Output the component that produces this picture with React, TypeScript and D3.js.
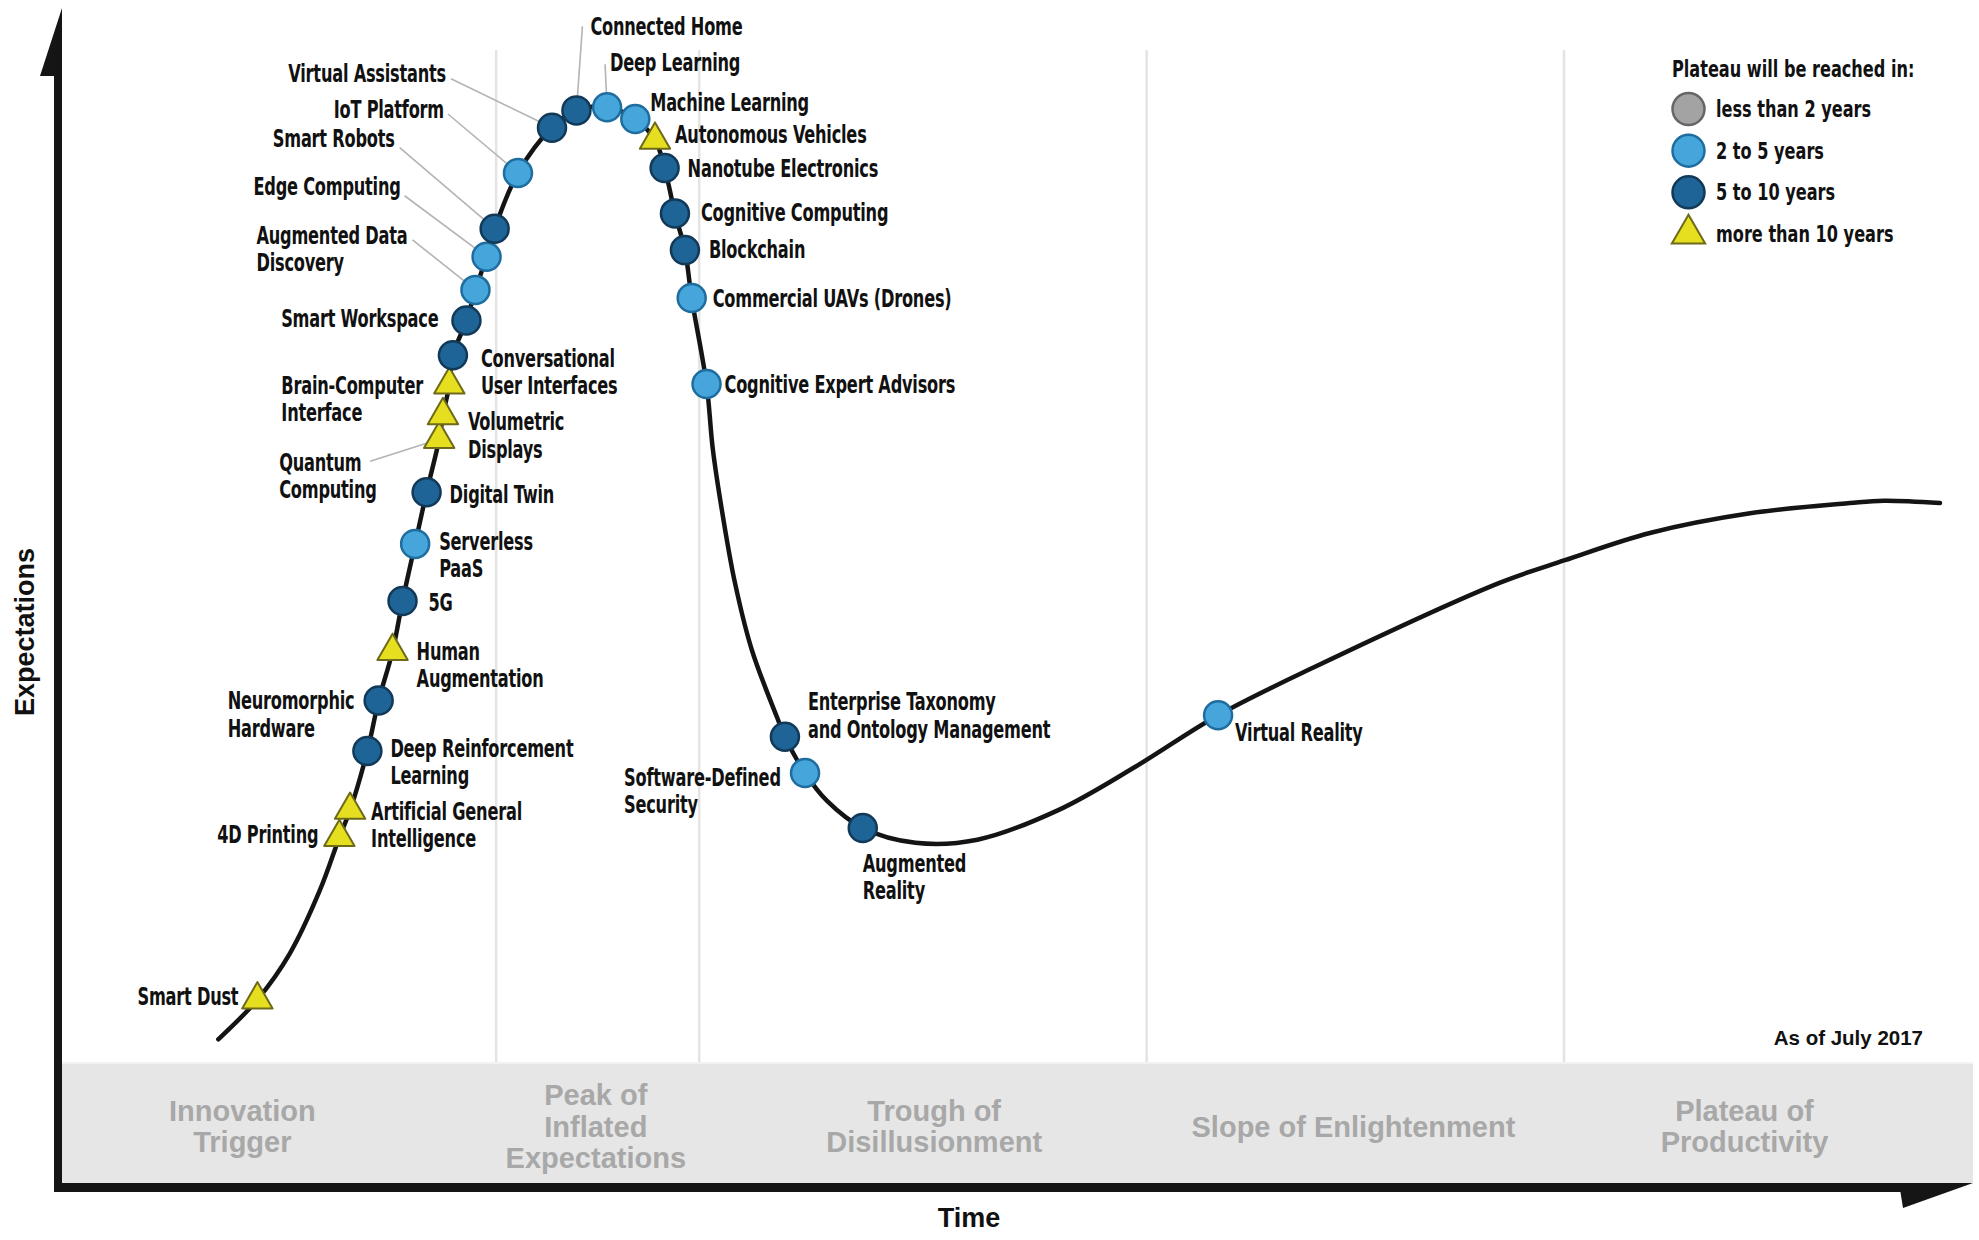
import { useEffect, useRef } from "react";
import * as d3 from "d3";

const WIDTH = 1979;
const HEIGHT = 1240;

// Plateau groups (legend order)
const PLATEAU_GROUPS = ["less than 2 years", "2 to 5 years", "5 to 10 years", "more than 10 years"];
const GROUP_FILL = ["#a3a3a3", "#46a6dc", "#1f6497", "#e6df1f"];
const GROUP_STROKE = ["#666666", "#1f6d9e", "#123a58", "#6e6a1a"];

// Phases along the time axis
const PHASE_NAMES = [
  "Innovation\nTrigger",
  "Peak of\nInflated\nExpectations",
  "Trough of\nDisillusionment",
  "Slope of Enlightenment",
  "Plateau of\nProductivity",
];
const PHASE_CENTERS = [9.7, 28.5, 46.5, 68.8, 89.6];
const PHASE_BOUNDS = [23.2, 34.0, 57.8, 80.0];

// Technologies on the curve (time 0-100, expectations 0-100)
const TECH_NAMES = [
  "Smart Dust",
  "4D Printing",
  "Artificial General\nIntelligence",
  "Deep Reinforcement\nLearning",
  "Neuromorphic\nHardware",
  "Human\nAugmentation",
  "5G",
  "Serverless\nPaaS",
  "Digital Twin",
  "Quantum\nComputing",
  "Volumetric\nDisplays",
  "Brain-Computer\nInterface",
  "Conversational\nUser Interfaces",
  "Smart Workspace",
  "Augmented Data\nDiscovery",
  "Edge Computing",
  "Smart Robots",
  "IoT Platform",
  "Virtual Assistants",
  "Connected Home",
  "Deep Learning",
  "Machine Learning",
  "Autonomous Vehicles",
  "Nanotube Electronics",
  "Cognitive Computing",
  "Blockchain",
  "Commercial UAVs (Drones)",
  "Cognitive Expert Advisors",
  "Enterprise Taxonomy\nand Ontology Management",
  "Software-Defined\nSecurity",
  "Augmented\nReality",
  "Virtual Reality",
];
const TECH_TIME = [
  10.5, 14.86, 15.43, 16.35, 16.95, 17.69, 18.22, 18.89, 19.5, 20.17, 20.37, 20.71, 20.9, 21.62, 22.1, 22.69,
  23.12, 24.36, 26.17, 27.47, 29.1, 30.6, 31.65, 32.16, 32.71, 33.24, 33.6, 34.39, 38.56, 39.63, 42.7, 61.6,
];
const TECH_EXPECT = [
  5.92, 21.83, 24.5, 30.3, 35.25, 40.08, 45.0, 50.6, 55.67, 60.86, 63.2, 66.2, 69.1, 72.5, 75.5, 78.75,
  81.5, 86.96, 91.4, 93.1, 93.4, 92.25, 90.2, 87.45, 83.0, 79.4, 74.7, 66.27, 31.7, 28.14, 22.75, 33.8,
];
const TECH_GROUP = [
  3, 3, 3, 2, 2, 3, 2, 1, 2, 3, 3, 3, 2, 2, 1, 1,
  2, 1, 2, 2, 1, 1, 3, 2, 2, 2, 1, 1, 2, 1, 2, 1,
];

// Extra points tracing the curve between the technologies
const SHAPE_TIME = [8.42, 12.23, 13.83, 34.73, 35.27, 35.9, 36.8, 38.14, 40.8, 45.5, 48.8, 53.1, 57.2, 66.7, 76.6, 80.05, 84.57, 89.9, 95.2, 97.0, 100];
const SHAPE_EXPECT = [2.03, 10.46, 16.67, 59.8, 53.2, 46.8, 40.2, 33.6, 25.4, 21.3, 21.6, 24.5, 28.75, 38.5, 46.8, 49.0, 51.67, 53.6, 54.6, 54.83, 54.6];

// label placement relative to the marker (px); leader start relative to label anchor
type LabelPos = { dx: number; dy: number; anchor: "start" | "end"; leader?: [number, number] };
const LABEL_LAYOUT: Record<string, LabelPos> = {
  "Smart Dust": { dx: -19, dy: -3, anchor: "end" },
  "4D Printing": { dx: -21, dy: -3, anchor: "end" },
  "Artificial General\nIntelligence": { dx: 21, dy: 1, anchor: "start" },
  "Deep Reinforcement\nLearning": { dx: 23, dy: -3, anchor: "start" },
  "Neuromorphic\nHardware": { dx: -151, dy: 0, anchor: "start" },
  "Human\nAugmentation": { dx: 24, dy: 0, anchor: "start" },
  "5G": { dx: 26, dy: 1, anchor: "start" },
  "Serverless\nPaaS": { dx: 24, dy: -3, anchor: "start" },
  "Digital Twin": { dx: 23, dy: 2, anchor: "start" },
  "Quantum\nComputing": { dx: -160, dy: 23, anchor: "start", leader: [91, -1] },
  "Volumetric\nDisplays": { dx: 25, dy: 6, anchor: "start" },
  "Brain-Computer\nInterface": { dx: -168, dy: 0, anchor: "start" },
  "Conversational\nUser Interfaces": { dx: 28, dy: 3, anchor: "start" },
  "Smart Workspace": { dx: -28, dy: -2, anchor: "end" },
  "Augmented Data\nDiscovery": { dx: -219, dy: -55, anchor: "start", leader: [156, 5] },
  "Edge Computing": { dx: -86, dy: -71, anchor: "end", leader: [4, 10] },
  "Smart Robots": { dx: -100, dy: -90, anchor: "end", leader: [5, 9] },
  "IoT Platform": { dx: -74, dy: -64, anchor: "end", leader: [4, 5] },
  "Virtual Assistants": { dx: -106, dy: -54, anchor: "end", leader: [5, 5] },
  "Connected Home": { dx: 14, dy: -84, anchor: "start", leader: [-8, 0] },
  "Deep Learning": { dx: 3, dy: -45, anchor: "start", leader: [-5, 2] },
  "Machine Learning": { dx: 15, dy: -17, anchor: "start" },
  "Autonomous Vehicles": { dx: 20, dy: -6, anchor: "start" },
  "Nanotube Electronics": { dx: 23, dy: 0, anchor: "start" },
  "Cognitive Computing": { dx: 26, dy: -1, anchor: "start" },
  "Blockchain": { dx: 24, dy: -1, anchor: "start" },
  "Commercial UAVs (Drones)": { dx: 21, dy: 0, anchor: "start" },
  "Cognitive Expert Advisors": { dx: 18, dy: 0, anchor: "start" },
  "Enterprise Taxonomy\nand Ontology Management": { dx: 23, dy: -35, anchor: "start" },
  "Software-Defined\nSecurity": { dx: -181, dy: 4, anchor: "start" },
  "Augmented\nReality": { dx: 0, dy: 35, anchor: "start" },
  "Virtual Reality": { dx: 17, dy: 17, anchor: "start" },
};

const NARROW = "'Liberation Sans Narrow', 'DejaVu Sans Condensed', 'DejaVu Sans', sans-serif";
const BOLD = "'Liberation Sans', Arial, Helvetica, sans-serif";

type Sel = d3.Selection<SVGGElement, unknown, null, undefined>;

// condensed multi-line label: squeezed horizontally around its anchor point
function condensedText(parent: Sel, x: number, y: number, text: string, anchor: string, squeeze: number, gap: number) {
  const t = parent
    .append("g")
    .attr("transform", `translate(${x},${y})`)
    .append("text")
    .attr("transform", `scale(${squeeze},1)`)
    .attr("text-anchor", anchor);
  text.split("\n").forEach((ln, j) => {
    t.append("tspan")
      .attr("x", 0)
      .attr("dy", j === 0 ? "0.35em" : gap)
      .text(ln);
  });
}

export default function App() {
  const svgRef = useRef<SVGSVGElement | null>(null);

  useEffect(() => {
    const svg = d3.select(svgRef.current);
    svg.selectAll("*").remove();

    const x = d3.scaleLinear().domain([0, 100]).range([60, 1940]);
    const y = d3.scaleLinear().domain([0, 100]).range([1060, 40]);

    const bandTop = 1062;
    const bandBottom = 1183;
    const axisLeft = 54;
    const axisRight = 1973;

    // phase band
    svg
      .append("rect")
      .attr("x", axisLeft + 8)
      .attr("y", bandTop)
      .attr("width", axisRight - axisLeft - 8)
      .attr("height", bandBottom - bandTop)
      .attr("fill", "#e6e6e6");
    svg
      .append("line")
      .attr("x1", axisLeft + 8)
      .attr("x2", axisRight)
      .attr("y1", bandTop + 1)
      .attr("y2", bandTop + 1)
      .attr("stroke", "#f2f2f2")
      .attr("stroke-width", 2);

    // phase boundaries
    svg
      .append("g")
      .selectAll("line")
      .data(PHASE_BOUNDS)
      .join("line")
      .attr("x1", (d) => x(d))
      .attr("x2", (d) => x(d))
      .attr("y1", 50)
      .attr("y2", bandTop)
      .attr("stroke", "#e4e4e4")
      .attr("stroke-width", 2.5);

    // phase names
    const phases = svg
      .append("g")
      .attr("font-family", BOLD)
      .attr("font-weight", "bold")
      .attr("font-size", 29)
      .attr("fill", "#a8a8a8")
      .attr("text-anchor", "middle");
    PHASE_NAMES.forEach((name, i) => {
      const lines = name.split("\n");
      const cy = (bandTop + bandBottom) / 2 + 4 - ((lines.length - 1) * 31.5) / 2;
      const t = phases.append("text").attr("y", cy);
      lines.forEach((ln, j) => {
        t.append("tspan")
          .attr("x", x(PHASE_CENTERS[i]))
          .attr("dy", j === 0 ? "0.35em" : 31.5)
          .text(ln);
      });
    });

    // axes (arrows)
    const axes = svg.append("g").attr("fill", "#151515");
    axes
      .append("rect")
      .attr("x", axisLeft)
      .attr("y", 70)
      .attr("width", 8)
      .attr("height", 1192 - 70);
    axes.append("path").attr("d", `M${axisLeft + 8},8 L${axisLeft + 8},76 L${axisLeft - 14},76 Z`);
    axes
      .append("rect")
      .attr("x", axisLeft)
      .attr("y", bandBottom)
      .attr("width", 1903 - axisLeft)
      .attr("height", 9);
    axes.append("path").attr("d", `M1899,${bandBottom} L${axisRight},${bandBottom} L1903,${bandBottom + 25} Z`);

    // axis titles
    svg
      .append("text")
      .attr("x", 969)
      .attr("y", 1218)
      .attr("dy", "0.35em")
      .attr("text-anchor", "middle")
      .attr("font-family", BOLD)
      .attr("font-weight", "bold")
      .attr("font-size", 27)
      .attr("fill", "#111")
      .text("Time");
    svg
      .append("text")
      .attr("transform", "translate(25,632) rotate(-90)")
      .attr("dy", "0.35em")
      .attr("text-anchor", "middle")
      .attr("font-family", BOLD)
      .attr("font-weight", "bold")
      .attr("font-size", 27)
      .attr("fill", "#111")
      .text("Expectations");

    svg
      .append("text")
      .attr("x", 1923)
      .attr("y", 1045)
      .attr("text-anchor", "end")
      .attr("font-family", BOLD)
      .attr("font-weight", "bold")
      .attr("font-size", 20.5)
      .attr("fill", "#111")
      .text("As of July 2017");

    // curve
    const techs = TECH_NAMES.map((name, i) => ({
      name,
      t: TECH_TIME[i],
      e: TECH_EXPECT[i],
      group: TECH_GROUP[i],
    }));
    const curvePts = [
      ...techs.map((d) => [d.t, d.e] as [number, number]),
      ...SHAPE_TIME.map((t, i) => [t, SHAPE_EXPECT[i]] as [number, number]),
    ].sort((a, b) => a[0] - b[0]);

    const line = d3
      .line<[number, number]>()
      .x((d) => x(d[0]))
      .y((d) => y(d[1]))
      .curve(d3.curveCatmullRom.alpha(0.5));

    svg
      .append("path")
      .datum(curvePts)
      .attr("d", line)
      .attr("fill", "none")
      .attr("stroke", "#141414")
      .attr("stroke-width", 4.5)
      .attr("stroke-linecap", "round");

    // leader lines
    svg
      .append("g")
      .selectAll("line")
      .data(techs.filter((d) => LABEL_LAYOUT[d.name].leader))
      .join("line")
      .attr("x1", (d) => x(d.t) + LABEL_LAYOUT[d.name].dx + LABEL_LAYOUT[d.name].leader![0])
      .attr("y1", (d) => y(d.e) + LABEL_LAYOUT[d.name].dy + LABEL_LAYOUT[d.name].leader![1])
      .attr("x2", (d) => x(d.t))
      .attr("y2", (d) => y(d.e))
      .attr("stroke", "#b4b4b4")
      .attr("stroke-width", 1.6);

    // markers
    const triangle = d3.symbol().type(d3.symbolTriangle).size(400);
    const marks = svg.append("g");
    techs.forEach((d) => {
      if (d.group === 3) {
        marks
          .append("path")
          .attr("d", triangle())
          .attr("transform", `translate(${x(d.t)},${y(d.e)})`)
          .attr("fill", GROUP_FILL[3])
          .attr("stroke", GROUP_STROKE[3])
          .attr("stroke-width", 2)
          .attr("stroke-linejoin", "round");
      } else {
        marks
          .append("circle")
          .attr("cx", x(d.t))
          .attr("cy", y(d.e))
          .attr("r", 14)
          .attr("fill", GROUP_FILL[d.group])
          .attr("stroke", GROUP_STROKE[d.group])
          .attr("stroke-width", 2.5);
      }
    });

    // labels
    const labels = svg
      .append("g")
      .attr("font-family", NARROW)
      .attr("font-weight", "bold")
      .attr("font-size", 25)
      .attr("letter-spacing", -0.3)
      .attr("fill", "#111") as unknown as Sel;
    techs.forEach((d) => {
      const pos = LABEL_LAYOUT[d.name];
      condensedText(labels, x(d.t) + pos.dx, y(d.e) + pos.dy, d.name, pos.anchor, 0.72, 27.5);
    });

    // legend
    const legend = svg
      .append("g")
      .attr("font-family", NARROW)
      .attr("font-weight", "bold")
      .attr("font-size", 23)
      .attr("fill", "#111") as unknown as Sel;
    condensedText(legend, 1672, 69, "Plateau will be reached in:", "start", 0.78, 0);
    const legendY = d3.scalePoint<string>().domain(PLATEAU_GROUPS).range([109, 234]);
    PLATEAU_GROUPS.forEach((g, i) => {
      const cy = legendY(g)!;
      if (i === 3) {
        legend
          .append("path")
          .attr("d", d3.symbol().type(d3.symbolTriangle).size(480)())
          .attr("transform", `translate(1688.5,${cy})`)
          .attr("fill", GROUP_FILL[i])
          .attr("stroke", GROUP_STROKE[i])
          .attr("stroke-width", 2);
      } else {
        legend
          .append("circle")
          .attr("cx", 1688.5)
          .attr("cy", cy)
          .attr("r", 16)
          .attr("fill", GROUP_FILL[i])
          .attr("stroke", GROUP_STROKE[i])
          .attr("stroke-width", 2.5);
      }
      condensedText(legend, 1716, cy, g, "start", 0.78, 0);
    });
  }, []);

  return (
    <svg
      ref={svgRef}
      width={WIDTH}
      height={HEIGHT}
      style={{ position: "absolute", left: 0, top: 0, background: "#fff" }}
    />
  );
}
